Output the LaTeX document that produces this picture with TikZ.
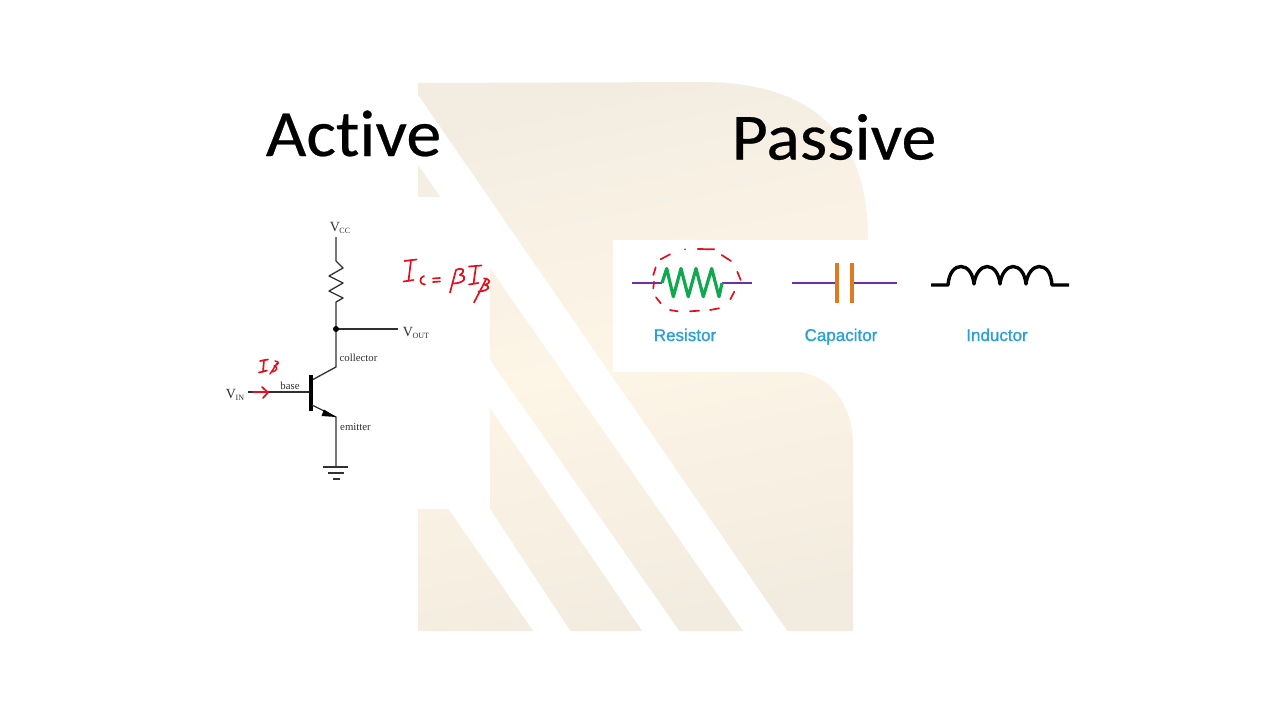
\documentclass[tikz,border=0pt]{standalone}
\usepackage{fontspec}
\setmainfont{Liberation Serif}
\newfontfamily\titlefont[Ligatures={NoCommon,NoRequired,NoContextual},FakeStretch=1.06,FakeBold=0.4]{Carlito}
\newfontfamily\labfont[FakeBold=1.1]{Liberation Sans}
\definecolor{inkred}{HTML}{E2101E}
\definecolor{wirepurple}{HTML}{7030A0}
\definecolor{resgreen}{HTML}{10A84E}
\definecolor{caporange}{HTML}{DF7A22}
\definecolor{labblue}{HTML}{2A9FD8}
\definecolor{wire}{HTML}{303030}
\definecolor{beigetop}{HTML}{F3ECE1}
\definecolor{beigemid}{HTML}{FDF6E7}
\definecolor{beigelow}{HTML}{F2EBDF}
\newcommand{\vsub}[1]{{\fontsize{14}{14}\selectfont V}{\fontsize{8}{8}\selectfont\raisebox{-1.5pt}{\kern-0.5pt #1}}}
\tikzset{
  x=1pt,y=-1pt,
  titlelabel/.style={anchor=base,inner sep=0,font=\titlefont\fontsize{66}{66}\selectfont,text=black},
  partlabel/.style={anchor=base,inner sep=0,font=\labfont\fontsize{17}{18}\selectfont,text=labblue},
  circlabel/.style={inner sep=0,font=\fontsize{10.8}{11}\selectfont,text=wire},
  voltlabel/.style={inner sep=0,text=wire},
  cable/.style={draw=wire,line width=1.3pt},
  hand/.style={draw=inkred,line width=1.7pt,line cap=round,line join=round},
  ringdash/.style={draw=inkred,line width=1.7pt,line cap=round},
  cutout/.style={fill=white,draw=none},
}
\begin{document}
\begin{tikzpicture}
\useasboundingbox (0,0) rectangle (1280,720);
\fill[white] (0,0) rectangle (1280,720);
% watermark
\shade[top color=beigetop,bottom color=beigelow,middle color=beigemid,shading angle=12]
  (418,83) -- (700,82) .. controls (790,82) and (868,115) .. (868,240)
  -- (868,372) -- (793,372) .. controls (830,372) and (853,405) .. (853,445)
  -- (853,631) -- (418,631) -- cycle;
\fill[cutout] (416,92) -- (788,632) -- (744,632) -- (416,162) -- cycle;
\fill[cutout] (489,358.6) -- (680,632) -- (643,632) -- (489,406.5) -- cycle;
\fill[cutout] (448,508) -- (534,632) -- (571,632) -- (490,509) -- cycle;
\fill[cutout] (416,197) rectangle (490,509);
\fill[cutout] (613,240) rectangle (1090,372);
% titles
\node[titlelabel] (active) at (353.5,156) {Active};
\node[titlelabel] (passive) at (834,159.5) {Passive};
% circuit
\node[voltlabel] (vcc) at (340,228) {\vsub{CC}};
\node[voltlabel] (vout) at (416,333) {\vsub{OUT}};
\node[voltlabel] (vin) at (235,395) {\vsub{IN}};
\node[circlabel] (coll) at (358.5,358) {collector};
\node[circlabel] (bas) at (290,386) {base};
\node[circlabel] (emit) at (355.5,427) {emitter};
\coordinate (rtop) at (336,261);
\coordinate (rbot) at (336,302);
\coordinate (junction) at (336,329);
\coordinate (cbend) at (336,367);
\coordinate (ebend) at (336,417);
\coordinate (gnd) at (336,467);
\coordinate (voutend) at (398,329);
\coordinate (vinend) at (248,392);
\coordinate (basept) at (311,392);
\draw[cable,line join=round] (336,237) -- (rtop) -- (343,268) -- (329,276) -- (343,283) -- (329,291) -- (343,298) -- (rbot) -- (junction) -- (cbend) -- (312,380);
\draw[cable] (junction) -- (voutend);
\draw[cable] (vinend) -- (basept);
\draw[draw=black,line width=3.2pt] (311,375) -- (311,411);
\draw[cable] (312,405) -- (ebend) -- (gnd);
\fill[black] (324,409.5) -- (336,417) -- (321.5,416) -- cycle;
\fill[black] (junction) circle (3);
\draw[cable] (323,467) -- (348,467);
\draw[cable] (328,473) -- (344,473);
\draw[cable] (333,479) -- (340,479);
% handwritten on circuit
\draw[hand] (253,392) -- (268,392);
\draw[hand] (262,387) -- (268,392.5) -- (263,398);
\draw[hand] (260,361) -- (268,359.5) (264,360) -- (263,372) (259,372.5) -- (267,370.5);
\draw[hand,line width=1.4pt] (278,362) -- (270,374) (275,361) .. controls (280,361) and (279,365) .. (274,366) .. controls (279,367) and (277,371) .. (272,372);
% formula
\draw[hand] (404.5,261) -- (416.5,259.5) (411,260) -- (408.5,281) (403.5,281.5) -- (413.5,280);
\draw[hand] (424,276) .. controls (419,277) and (419,285) .. (425,284.5);
\draw[hand] (433,278.5) -- (440,278) (433,282) -- (440,281.5);
\draw[hand] (456,270) -- (450,292.5) (456,270) .. controls (462,267) and (467,270) .. (460,275) .. controls (468,276) and (465,283) .. (454,283.5);
\draw[hand] (469,266.5) -- (481.5,265.5) (476,266) -- (473.5,283.5) (469,284.5) -- (478.5,283);
\draw[hand] (486.5,278.5) -- (474,302.5) (484,278.5) .. controls (491,279) and (491,283) .. (485,285) .. controls (491,286) and (489,291) .. (478.5,291.5);
% resistor
\coordinate (ra) at (632,283);
\coordinate (rb) at (662,283);
\coordinate (rc) at (722,283);
\coordinate (rd) at (752,283);
\draw[draw=wirepurple,line width=1.6pt] (ra) -- (rb) (rc) -- (rd);
\draw[draw=resgreen,line width=3.2pt,line join=round] (rb) -- (666.7,268.5) -- (673.3,296.7) -- (681,268.5) -- (688.3,296.7) -- (696,268.5) -- (703.3,296.7) -- (711.7,268.5) -- (719,296.7) -- (rc);
\draw[ringdash] (653.3,275) -- (655.7,267.3) (660.7,259.3) -- (670,254.3) (685,249.3) -- (685,249.4)
  (697.7,249) -- (714.3,249.3) (721.7,255) -- (731,261) (737.3,271.7) -- (740.7,280)
  (734.3,291.7) -- (730.3,299.3) (719,308.3) -- (710,310) (699,310.7) -- (690,311.3)
  (677.7,311.3) -- (670,310) (660.7,303.3) -- (656,297.3) (653.3,288.3) -- (654,281.7);
\node[partlabel] (rlab) at (685,341) {Resistor};
% capacitor
\coordinate (ca) at (792,283);
\coordinate (cb) at (837,283);
\coordinate (cc) at (852,283);
\coordinate (cd) at (897,283);
\draw[draw=wirepurple,line width=1.8pt] (ca) -- (cb) (cc) -- (cd);
\draw[draw=caporange,line width=4pt] (837,263) -- (837,303) (852,263) -- (852,303);
\node[partlabel] (clab) at (841,341) {Capacitor};
% inductor
\coordinate (la) at (931,285);
\coordinate (lb) at (948,285);
\coordinate (lc) at (1052,285);
\coordinate (ld) at (1069,285);
\draw[draw=black,line width=3.4pt,line join=round] (la) -- (lb)
  .. controls (949,272) and (955,266.5) .. (961,266.5) .. controls (968,266.5) and (973,274) .. (974,284)
  .. controls (975,274) and (981,266.5) .. (987,266.5) .. controls (994,266.5) and (999,274) .. (1000,284)
  .. controls (1001,274) and (1007,266.5) .. (1013,266.5) .. controls (1020,266.5) and (1025,274) .. (1026,284)
  .. controls (1027,274) and (1033,266.5) .. (1039,266.5) .. controls (1046,266.5) and (1051,272) .. (lc) -- (ld);
\node[partlabel] (llab) at (997,341) {Inductor};
\end{tikzpicture}
\end{document}
